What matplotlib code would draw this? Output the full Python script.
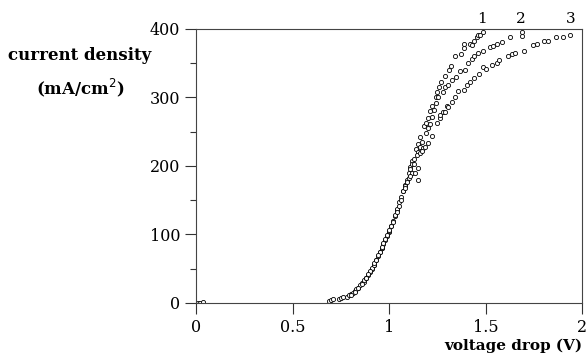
import matplotlib
matplotlib.use("Agg")
import matplotlib.pyplot as plt
from matplotlib.ticker import MultipleLocator

plt.rcParams['font.family'] = ['DejaVu Serif']

# points near the origin
v0 = [0.01, 0.02, 0.035]
j0 = [0, 0, 1]

# curve 1
v1 = [0.69, 0.74, 0.78, 0.80, 0.82, 0.84, 0.86, 0.88, 0.90, 0.92, 0.94, 0.96,
      0.98, 1.00, 1.02, 1.04, 1.06, 1.08, 1.10, 1.12, 1.14, 1.16, 1.18, 1.20,
      1.21, 1.22, 1.24, 1.25, 1.26, 1.27, 1.29, 1.31, 1.32, 1.34, 1.37, 1.39,
      1.385, 1.42, 1.43, 1.44, 1.454, 1.462, 1.471, 1.488,
      0.87, 0.91, 0.95, 0.99, 1.03, 1.07, 1.11, 1.15, 1.19]
j1 = [3, 6, 9, 13, 17, 22, 29, 36, 45, 56, 68, 80,
      92, 104, 120, 136, 155, 172, 190, 207, 225, 242, 258, 270,
      280, 287, 300, 308, 316, 323, 331, 340, 346, 360, 364, 372,
      378, 378, 377, 383, 388, 391, 391, 395,
      31, 50, 74, 97, 127, 163, 198, 232, 263]

# curve 2
v2 = [0.70, 0.75, 0.79, 0.81, 0.83, 0.85, 0.87, 0.89, 0.91, 0.93, 0.95, 0.97,
      0.99, 1.01, 1.03, 1.05, 1.07, 1.09, 1.11, 1.13, 1.15, 1.17, 1.19, 1.21,
      1.22, 1.232, 1.243, 1.255, 1.281, 1.29, 1.307, 1.324, 1.347, 1.367, 1.393,
      1.41, 1.428, 1.44, 1.462, 1.488, 1.523, 1.54, 1.558, 1.584, 1.627, 1.688,
      1.688,
      0.88, 0.92, 0.96, 1.00, 1.04, 1.08, 1.12, 1.16, 1.20]
j2 = [4, 7, 11, 15, 20, 26, 33, 41, 51, 62, 75, 86,
      99, 112, 128, 147, 163, 180, 196, 210, 221, 235, 248, 261,
      272, 281, 292, 301, 308, 316, 318, 326, 330, 339, 340,
      351, 356, 360, 365, 368, 373, 375, 378, 381, 388, 390,
      395,
      37, 56, 80, 105, 137, 171, 203, 228, 255]

# curve 3
v3 = [0.71, 0.76, 0.80, 0.82, 0.84, 0.86, 0.88, 0.90, 0.92, 0.94, 0.96, 0.98,
      1.00, 1.02, 1.04, 1.06, 1.08, 1.10, 1.12, 1.134, 1.151, 1.151, 1.143, 1.16,
      1.175, 1.186, 1.203, 1.22, 1.246, 1.264, 1.264, 1.281, 1.29, 1.298, 1.307,
      1.324, 1.341, 1.359, 1.385, 1.402, 1.419, 1.44, 1.463, 1.485, 1.50, 1.532,
      1.558, 1.57, 1.615, 1.636, 1.654, 1.70, 1.745, 1.765, 1.80, 1.822, 1.866,
      1.90, 1.938,
      0.89, 0.93, 0.97, 1.01, 1.05, 1.09, 1.11, 1.13, 1.17]
j3 = [5, 8, 12, 16, 21, 28, 37, 47, 58, 70, 81, 94,
      106, 118, 133, 150, 168, 183, 190, 189, 180, 197, 216, 219,
      226, 228, 233, 243, 262, 270, 275, 279, 279, 287, 286,
      294, 300, 309, 311, 318, 323, 328, 335, 344, 341, 347,
      351, 354, 360, 363, 365, 368, 377, 378, 382, 383, 388,
      389, 391,
      42, 63, 87, 112, 141, 176, 186, 203, 222]

curve_labels = ['1', '2', '3']
label_x = [1.48, 1.68, 1.94]

fig = plt.figure(figsize=(5.88, 3.58), dpi=100)
ax = fig.add_axes([0.334, 0.154, 0.656, 0.765])

mk = dict(linestyle='none', marker='o', markersize=3, markerfacecolor='white',
          markeredgecolor='black', markeredgewidth=0.6)
for v, j in [(v0, j0), (v1, j1), (v2, j2), (v3, j3)]:
    ax.plot(v, j, **mk)

ax.set_xlim(0, 2)
ax.set_ylim(0, 400)
ax.yaxis.set_major_locator(MultipleLocator(100))
ax.yaxis.set_minor_locator(MultipleLocator(50))
ax.set_xticks([0, 0.5, 1, 1.5, 2], ['0', '0.5', '1', '1.5', '2'])
ax.tick_params(which='major', direction='out', length=8, width=0.8,
               colors='#333333', labelcolor='black', labelsize=11.5)
ax.tick_params(which='minor', direction='out', length=4, width=0.8,
               colors='#333333')
for s in ax.spines.values():
    s.set_color('#444444')
    s.set_linewidth(0.8)

for lab, x in zip(curve_labels, label_x):
    ax.text(x, 405, lab, ha='center', va='bottom', fontsize=11)

fig.text(0.136, 0.845, 'current density', ha='center', va='center',
         fontsize=12, fontweight='bold')
fig.text(0.136, 0.755, '(mA/cm$^2$)', ha='center', va='center',
         fontsize=12, fontweight='bold')
fig.text(0.99, 0.035, 'voltage drop (V)', ha='right', va='center',
         fontsize=11, fontweight='bold')

fig.savefig('out.png', dpi=100)
